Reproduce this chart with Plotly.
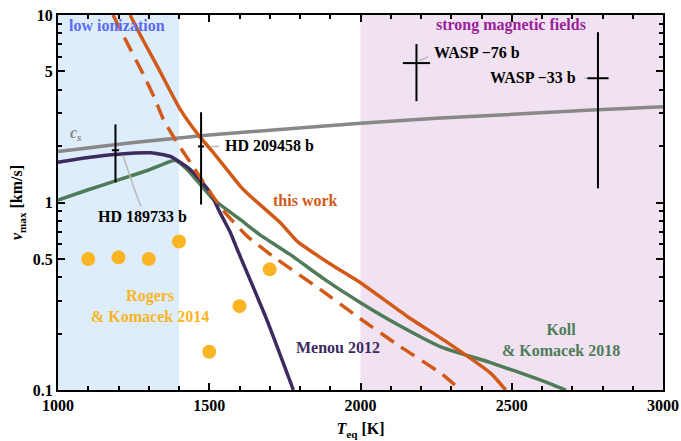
import plotly.graph_objects as go
import math

# ---------------- data ----------------
this_work_T = [1238, 1280, 1328, 1404, 1470, 1513, 1603, 1636, 1735, 1791, 1900, 2000, 2156, 2288, 2430, 2480]
this_work_v = [10.0, 7.4, 5.34, 3.14, 2.23, 1.85, 1.22, 1.08, 0.78, 0.62, 0.47, 0.373, 0.246, 0.179, 0.123, 0.1]

dashed_T = [1182, 1222, 1280, 1321, 1348, 1387, 1437, 1500, 1553, 1626, 1712, 1868, 1990, 2132, 2265, 2331]
dashed_v = [10.0, 7.44, 4.9, 3.55, 2.78, 2.17, 1.64, 1.15, 0.88, 0.66, 0.514, 0.343, 0.246, 0.17, 0.123, 0.1]

cs_T = [1000, 1250, 1500, 1750, 2000, 2250, 2500, 2750, 3000]
cs_v = [1.87, 2.09, 2.29, 2.47, 2.65, 2.81, 2.96, 3.10, 3.24]

menou_T = [1000, 1100, 1200, 1305, 1371, 1437, 1503, 1536, 1570, 1593, 1692, 1778]
menou_v = [1.64, 1.74, 1.81, 1.84, 1.76, 1.50, 1.13, 0.88, 0.69, 0.56, 0.233, 0.1]

koll_T = [1000, 1100, 1200, 1300, 1387, 1427, 1513, 1603, 1669, 1768, 1880, 2000, 2130, 2265, 2430, 2596, 2679]
koll_v = [1.03, 1.17, 1.32, 1.49, 1.68, 1.50, 1.04, 0.81, 0.67, 0.527, 0.39, 0.292, 0.22, 0.17, 0.14, 0.113, 0.1]

rogers_T = [1100, 1200, 1300, 1400, 1500, 1600, 1700]
rogers_v = [0.50, 0.51, 0.50, 0.62, 0.16, 0.28, 0.44]

planet_names = ["HD 189733 b", "HD 209458 b", "WASP\u2009\u221276 b", "WASP\u2009\u221233 b"]
planet_T = [1190, 1473, 2185, 2785]
planet_dT = [12, 10, 45, 35]
planet_v = [1.90, 1.99, 5.54, 4.60]
planet_v_hi = [2.61, 3.03, 7.0, 8.1]
planet_v_lo = [1.28, 0.975, 3.47, 1.19]

# ---------------- style ----------------
ORANGE = "#d25a18"
PURPLE = "#3d2a5e"
GREEN = "#4f7b58"
GRAY = "#888888"
YELLOW = "#fbb424"
FONT = "Liberation Serif"

fig = go.Figure()

fig.add_shape(type="rect", xref="x", yref="paper", x0=1000, x1=1400, y0=0, y1=1,
              fillcolor="#deedfc", line_width=0, layer="below")
fig.add_shape(type="rect", xref="x", yref="paper", x0=2000, x1=3000, y0=0, y1=1,
              fillcolor="#f0e2f1", line_width=0, layer="below")

LW = 3.5
fig.add_trace(go.Scatter(x=cs_T, y=cs_v, mode="lines", line=dict(color=GRAY, width=LW)))
fig.add_trace(go.Scatter(x=koll_T, y=koll_v, mode="lines",
                         line=dict(color=GREEN, width=LW, shape="spline", smoothing=0.4)))
fig.add_trace(go.Scatter(x=menou_T, y=menou_v, mode="lines",
                         line=dict(color=PURPLE, width=LW, shape="spline", smoothing=0.6)))
fig.add_trace(go.Scatter(x=dashed_T, y=dashed_v, mode="lines",
                         line=dict(color=ORANGE, width=LW, dash="16px,9px", shape="spline", smoothing=0.5)))
fig.add_trace(go.Scatter(x=this_work_T, y=this_work_v, mode="lines",
                         line=dict(color=ORANGE, width=LW, shape="spline", smoothing=0.5)))
fig.add_trace(go.Scatter(x=rogers_T, y=rogers_v, mode="markers",
                         marker=dict(color=YELLOW, size=14, line_width=0)))

leaders = [
    ([1215, 1262, 1275], [1.78, 1.07, 0.95]),
    ([1506, 1533], [1.99, 1.99]),
    ([2195, 2224], [5.7, 6.0]),
    ([2740, 2765], [4.6, 4.6]),
]
for lx, lyv in leaders:
    fig.add_trace(go.Scatter(x=lx, y=lyv, mode="lines", line=dict(color="#bbbbbb", width=1.5, shape="spline")))

fig.add_trace(go.Scatter(
    x=planet_T, y=planet_v, mode="markers",
    marker=dict(color="black", size=2),
    error_y=dict(type="data", symmetric=False,
                 array=[h - c for h, c in zip(planet_v_hi, planet_v)],
                 arrayminus=[c - l for c, l in zip(planet_v, planet_v_lo)],
                 color="black", thickness=2, width=0),
    error_x=dict(type="data", array=planet_dT, color="black", thickness=2, width=0),
))

def ann(text, x, y, color, size=16, xanchor="center", italic=False):
    fig.add_annotation(x=x, y=y, xref="x", yref="y", text=text, showarrow=False,
                       xanchor=xanchor, yanchor="middle",
                       font=dict(family=FONT, size=size, color=color, weight="bold",
                                 style="italic" if italic else "normal"))

def ly(v):
    return math.log10(v)

ann("low ionization", 1195, ly(8.75), "#5c6cf2")
ann("strong magnetic fields", 2498, ly(8.86), "#9b1f9b")
ann("c<sub>s</sub>", 1058, ly(2.33), GRAY, size=16, italic=True)
ann("this work", 1817, ly(1.03), ORANGE)
ann("Rogers<br>& Komacek 2014", 1304, ly(0.28), YELLOW)
ann("Menou 2012", 1926, ly(0.168), PURPLE)
ann("Koll<br>& Komacek 2018", 2664, ly(0.185), GREEN)
ann(planet_names[0], 1278, ly(0.842), "black")
ann(planet_names[1], 1545, ly(2.01), "black", xanchor="left")
ann(planet_names[2], 2236, ly(6.34), "black", xanchor="left")
ann(planet_names[3], 2718, ly(4.66), "black", xanchor="right")

minor_y = [0.2, 0.3, 0.4, 0.6, 0.7, 0.8, 0.9, 2, 3, 4, 6, 7, 8, 9]
axis_font = dict(family=FONT, size=16, color="black", weight="bold")
fig.update_xaxes(range=[1000, 3000], tickvals=[1000, 1500, 2000, 2500, 3000],
                 ticks="inside", ticklen=7, tickwidth=1.5, tickcolor="black",
                 showline=True, linecolor="black", linewidth=2, mirror="ticks",
                 showgrid=False, zeroline=False, tickfont=axis_font, automargin=False,
                 minor=dict(tickvals=list(range(1100, 3000, 100)), ticks="inside", ticklen=4,
                            tickwidth=1.5, tickcolor="black", showgrid=False),
                 title=dict(text="<i>T</i><sub>eq</sub> [K]", font=axis_font, standoff=10))
fig.update_yaxes(type="log", range=[-1, 1], tickvals=[0.1, 0.5, 1, 5, 10],
                 ticktext=["0.1", "0.5", "1", "5", "10"],
                 ticks="inside", ticklen=7, tickwidth=1.5, tickcolor="black",
                 showline=True, linecolor="black", linewidth=2, mirror="ticks",
                 showgrid=False, zeroline=False, tickfont=axis_font, automargin=False,
                 minor=dict(tickvals=minor_y, ticks="inside", ticklen=4,
                            tickwidth=1.5, tickcolor="black", showgrid=False),
                 title=dict(text="<i>v</i><sub>max</sub> [km/s]", font=axis_font, standoff=6))

fig.update_layout(width=681, height=441, margin=dict(l=58, r=18, t=15, b=51),
                  plot_bgcolor="white", paper_bgcolor="white", showlegend=False)

fig.write_html("out.html")
